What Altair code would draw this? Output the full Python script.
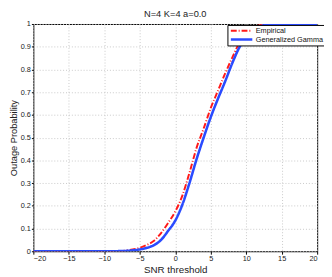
import altair as alt
import pandas as pd

snr = [-20, -10, -9, -8, -7, -6, -5, -4, -3, -2, -1, 0, 1, 2, 3, 4, 5, 6, 7, 8, 9, 10, 11, 12, 13, 14, 15, 20]
empirical = [0, 0, 0, 0.001, 0.003, 0.008, 0.015, 0.028, 0.046, 0.08, 0.125, 0.175, 0.245, 0.345, 0.455, 0.54,
             0.63, 0.705, 0.78, 0.85, 0.915, 0.96, 0.985, 0.995, 1.0, 1.0, 1.0, 1.0]
gen_gamma = [0, 0, 0, 0.0005, 0.0015, 0.004, 0.008, 0.015, 0.027, 0.05, 0.09, 0.135, 0.205, 0.3, 0.405, 0.5,
             0.59, 0.67, 0.745, 0.825, 0.895, 0.945, 0.975, 0.99, 0.997, 1.0, 1.0, 1.0]
series_names = ["Empirical", "Generalized Gamma"]
x_ticks = [-20, -15, -10, -5, 0, 5, 10, 15, 20]
y_ticks = [0, 0.1, 0.2, 0.3, 0.4, 0.5, 0.6, 0.7, 0.8, 0.9, 1]

rows = []
for name, vals in zip(series_names, [empirical, gen_gamma]):
    for i, (x, y) in enumerate(zip(snr, vals)):
        rows.append({"snr": x, "p": y, "series": name, "order": i})
df = pd.DataFrame(rows)

font = "Liberation Sans"

chart = alt.Chart(df).mark_line(interpolate="monotone", clip=True).encode(
    x=alt.X("snr:Q", scale=alt.Scale(domain=[-20, 20], nice=False),
            axis=alt.Axis(values=x_ticks, title="SNR threshold", grid=True,
                          gridColor="#c8c8c8", gridDash=[1, 2], gridOpacity=1,
                          tickSize=3, tickColor="#000", domain=False,
                          labelFontSize=7.5, labelColor="#222", labelFont=font,
                          titleFontSize=10, titleFontWeight="normal", titleFont=font,
                          titleColor="#222", titlePadding=2, labelPadding=1)),
    y=alt.Y("p:Q", scale=alt.Scale(domain=[0, 1], nice=False),
            axis=alt.Axis(values=y_ticks, title="Outage Probability", format="~g", grid=True,
                          gridColor="#c8c8c8", gridDash=[1, 2], gridOpacity=1,
                          tickSize=2, tickColor="#000", domain=False,
                          labelFontSize=7.5, labelColor="#222", labelFont=font,
                          titleFontSize=9.5, titleFontWeight="normal", titleFont=font,
                          titleColor="#222", titlePadding=2, labelPadding=1)),
    color=alt.Color("series:N", title=None,
                    scale=alt.Scale(domain=series_names, range=["#ff1a1a", "#2a4bff"]),
                    legend=alt.Legend(orient="none", legendX=199, legendY=1,
                                      symbolType="stroke", symbolSize=484, symbolStrokeWidth=2.5,
                                      clipHeight=8, labelFontSize=7.5, labelFont=font, labelColor="#111",
                                      rowPadding=1, padding=2, strokeColor="#000",
                                      fillColor="#ffffff", labelOffset=2, symbolOffset=0)),
    strokeDash=alt.StrokeDash("series:N", title=None,
                              scale=alt.Scale(domain=series_names, range=[[6, 2, 1, 2], [1, 0]]),
                              legend=None),
    strokeWidth=alt.StrokeWidth("series:N", scale=alt.Scale(domain=series_names, range=[2, 2.6]),
                                legend=None),
    order="order:Q",
).properties(
    width=291, height=233,
    title=alt.TitleParams("N=4 K=4 a=0.0", fontSize=9.5, fontWeight="normal", font=font,
                          color="#222", offset=2),
    padding={"left": 26, "top": 13, "right": 7, "bottom": 23},
    autosize=alt.AutoSizeParams(type="none"),
).configure_view(stroke="#000", strokeWidth=1)

chart.save("out.html", embed_options={"renderer": "svg", "actions": False})
